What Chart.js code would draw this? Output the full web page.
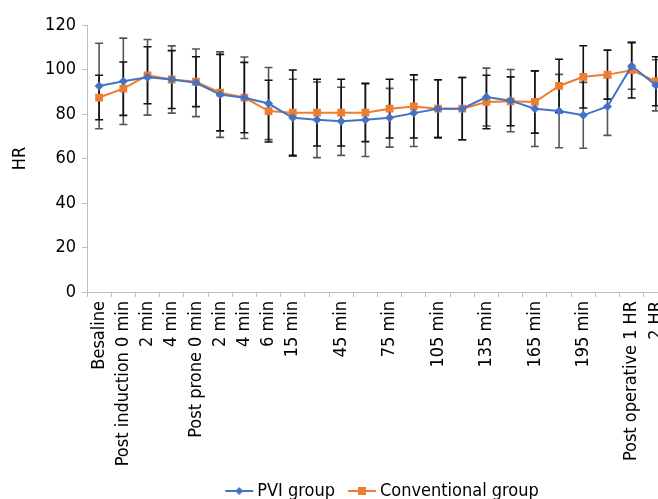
<!DOCTYPE html>
<html>
<head>
<meta charset="utf-8">
<script src="https://cdn.jsdelivr.net/npm/chart.js@4"></script>
<style>
  html, body { margin: 0; padding: 0; background: #fff; overflow: hidden; }
  #wrap { width: 690px; height: 510px; }
</style>
</head>
<body>
<div id="wrap"><canvas id="hr-chart" width="690" height="510"></canvas></div>
<script>
// time points (only some of them carry a tick label in the figure)
const labels = ['Besaline', 'Post induction 0 min', '2 min', '4 min', 'Post prone 0 min', '2 min', '4 min', '6 min',
  '15 min', '', '45 min', '', '75 min', '', '105 min', '', '135 min', '', '165 min', '', '195 min', '',
  'Post operative 1 HR', '2 HR'];

const pviMean = [92.6, 94.7, 96.5, 95.5, 94, 88.7, 87.3, 84.7, 78.3, 77.4, 76.7, 77.4, 78.3, 80.4, 82.4, 82.4,
  87.6, 86, 82.4, 81.3, 79.4, 83.4, 101.6, 92.9];
const pviSd = [19.2, 19.4, 17, 15.1, 15.2, 19.2, 18.3, 16.2, 17.3, 17, 15.3, 16.5, 13.2, 15, 13, 14,
  13, 14, 17, 16.5, 14.8, 13, 10.5, 11.5];

const convMean = [87.4, 91.4, 97.4, 95.5, 94.5, 89.6, 87.4, 81.3, 80.6, 80.6, 80.6, 80.6, 82.4, 83.4, 82.4, 82.4,
  85.4, 85.7, 85.4, 92.6, 96.7, 97.7, 99.7, 94.7];
const convSd = [10, 12, 12.8, 13, 11.2, 17.2, 15.8, 13.9, 19.2, 15, 15, 13, 13.2, 14.2, 13, 14,
  12, 11, 14, 12, 14, 11, 12.5, 11];

const yTicks = [0, 20, 40, 60, 80, 100, 120];

const BLUE = '#4472C4';
const ORANGE = '#ED7D31';
const AXIS = '#bfbfbf';
const FONT = "'DejaVu Sans Condensed', 'Liberation Sans Narrow', sans-serif";

Chart.defaults.font.family = FONT;
Chart.defaults.color = '#000';

// SD whiskers, drawn under the lines
const errorBars = {
  id: 'errorBars',
  beforeDatasetsDraw(chart) {
    const { ctx, scales: { x, y } } = chart;
    ctx.save();
    ctx.lineWidth = 1.6;
    [[pviMean, pviSd, '#555'], [convMean, convSd, '#111']].forEach(([means, sds, color]) => {
      ctx.strokeStyle = color;
      means.forEach((m, i) => {
        const px = x.getPixelForValue(i);
        const top = y.getPixelForValue(m + sds[i]);
        const bot = y.getPixelForValue(m - sds[i]);
        ctx.beginPath();
        ctx.moveTo(px, top); ctx.lineTo(px, bot);
        ctx.moveTo(px - 4, top); ctx.lineTo(px + 4, top);
        ctx.moveTo(px - 4, bot); ctx.lineTo(px + 4, bot);
        ctx.stroke();
      });
    });
    ctx.restore();
  }
};

// legend swatch: short line with the series marker, shifted right inside a wider canvas
function legendIcon(color, marker) {
  const c = document.createElement('canvas');
  c.width = 50; c.height = 12;
  const g = c.getContext('2d');
  g.strokeStyle = color;
  g.lineWidth = 2;
  g.beginPath(); g.moveTo(18, 6); g.lineTo(46, 6); g.stroke();
  g.fillStyle = color;
  if (marker === 'diamond') {
    g.beginPath(); g.moveTo(32, 2); g.lineTo(36, 6); g.lineTo(32, 10); g.lineTo(28, 6); g.closePath(); g.fill();
  } else {
    g.fillRect(28, 2, 8, 8);
  }
  return c;
}
const icons = [legendIcon(BLUE, 'diamond'), legendIcon(ORANGE, 'square')];

new Chart(document.getElementById('hr-chart'), {
  type: 'line',
  data: {
    labels: labels,
    datasets: [
      {
        label: 'PVI group',
        data: pviMean,
        borderColor: BLUE,
        backgroundColor: BLUE,
        borderWidth: 2,
        pointStyle: 'rectRot',
        pointRadius: 4.5,
        pointBorderWidth: 0,
        tension: 0
      },
      {
        label: 'Conventional group',
        data: convMean,
        borderColor: ORANGE,
        backgroundColor: ORANGE,
        borderWidth: 2,
        pointStyle: 'rect',
        pointRadius: 5.5,
        pointBorderWidth: 0,
        tension: 0
      }
    ]
  },
  options: {
    responsive: false,
    animation: false,
    layout: { padding: { top: 25, right: 22, left: 0, bottom: 0 } },
    plugins: {
      tooltip: { enabled: false },
      legend: {
        position: 'bottom',
        fullSize: false,
        labels: {
          font: { size: 18 },
          padding: 4,
          usePointStyle: true,
          pointStyleWidth: 32,
          generateLabels: chart => chart.data.datasets.map((ds, i) => ({
            text: ds.label,
            pointStyle: icons[i],
            fillStyle: ds.borderColor,
            strokeStyle: ds.borderColor,
            lineWidth: 0,
            fontColor: '#000',
            datasetIndex: i
          }))
        }
      }
    },
    scales: {
      x: {
        offset: true,
        grid: { offset: true, drawOnChartArea: false, drawTicks: true, tickLength: 5, color: AXIS },
        border: { color: AXIS, width: 1 },
        ticks: {
          autoSkip: false,
          maxRotation: 90,
          minRotation: 90,
          padding: 4,
          font: { size: 18 },
          color: '#000'
        },
        afterFit: s => { s.height = 186; }
      },
      y: {
        min: 0,
        max: 120,
        afterBuildTicks: s => { s.ticks = yTicks.map(v => ({ value: v })); },
        grid: { drawOnChartArea: false, drawTicks: true, tickLength: 5, color: AXIS },
        border: { color: AXIS, width: 1 },
        ticks: { padding: 6, font: { size: 18 }, color: '#000' },
        title: { display: true, text: 'HR', font: { size: 18 }, color: '#000', padding: { top: 10, bottom: 0 } },
        afterFit: s => { s.width = 87; }
      }
    }
  },
  plugins: [errorBars]
});
</script>
</body>
</html>
